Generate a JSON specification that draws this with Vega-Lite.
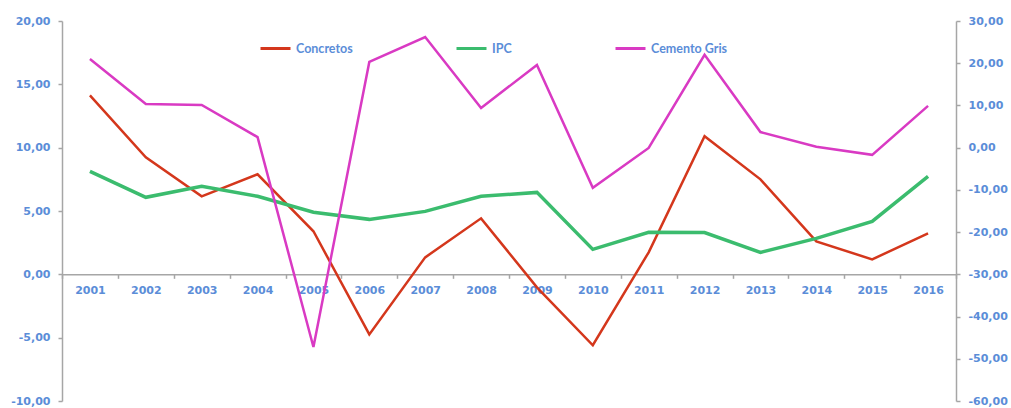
{
  "$schema": "https://vega.github.io/schema/vega-lite/v6.json",
  "width": 894,
  "height": 380,
  "autosize": {"type": "none"},
  "padding": {"left": 62, "top": 21, "right": 55, "bottom": 7},
  "background": "white",
  "config": {
    "locale": {"number": {"decimal": ",", "thousands": ".", "grouping": [3], "currency": ["", " €"], "minus": "-"}},
    "view": {"stroke": null},
    "axis": {
      "labelFont": "DejaVu Sans", "labelFontWeight": "bold", "labelFontSize": 11, "labelColor": "#5B8DD8",
      "domainColor": "#A6A6A6", "domainWidth": 1.5, "tickColor": "#A6A6A6", "tickWidth": 1.5, "tickSize": 4,
      "grid": false, "title": null
    }
  },
  "data": {"values": [
    {"year": "2001", "serie": "Concretos", "value": 14.13},
    {"year": "2002", "serie": "Concretos", "value": 9.24},
    {"year": "2003", "serie": "Concretos", "value": 6.16},
    {"year": "2004", "serie": "Concretos", "value": 7.9},
    {"year": "2005", "serie": "Concretos", "value": 3.4},
    {"year": "2006", "serie": "Concretos", "value": -4.74},
    {"year": "2007", "serie": "Concretos", "value": 1.34},
    {"year": "2008", "serie": "Concretos", "value": 4.42},
    {"year": "2009", "serie": "Concretos", "value": -1.03},
    {"year": "2010", "serie": "Concretos", "value": -5.6},
    {"year": "2011", "serie": "Concretos", "value": 1.74},
    {"year": "2012", "serie": "Concretos", "value": 10.9},
    {"year": "2013", "serie": "Concretos", "value": 7.5},
    {"year": "2014", "serie": "Concretos", "value": 2.6},
    {"year": "2015", "serie": "Concretos", "value": 1.18},
    {"year": "2016", "serie": "Concretos", "value": 3.24},
    {"year": "2001", "serie": "IPC", "value": 8.13},
    {"year": "2002", "serie": "IPC", "value": 6.08},
    {"year": "2003", "serie": "IPC", "value": 6.95},
    {"year": "2004", "serie": "IPC", "value": 6.16},
    {"year": "2005", "serie": "IPC", "value": 4.9},
    {"year": "2006", "serie": "IPC", "value": 4.34},
    {"year": "2007", "serie": "IPC", "value": 4.97},
    {"year": "2008", "serie": "IPC", "value": 6.16},
    {"year": "2009", "serie": "IPC", "value": 6.47},
    {"year": "2010", "serie": "IPC", "value": 1.97},
    {"year": "2011", "serie": "IPC", "value": 3.32},
    {"year": "2012", "serie": "IPC", "value": 3.3},
    {"year": "2013", "serie": "IPC", "value": 1.73},
    {"year": "2014", "serie": "IPC", "value": 2.84},
    {"year": "2015", "serie": "IPC", "value": 4.18},
    {"year": "2016", "serie": "IPC", "value": 7.74},
    {"year": "2001", "serie": "Cemento Gris", "value": 21.0},
    {"year": "2002", "serie": "Cemento Gris", "value": 10.35},
    {"year": "2003", "serie": "Cemento Gris", "value": 10.1},
    {"year": "2004", "serie": "Cemento Gris", "value": 2.5},
    {"year": "2005", "serie": "Cemento Gris", "value": -47.2},
    {"year": "2006", "serie": "Cemento Gris", "value": 20.3},
    {"year": "2007", "serie": "Cemento Gris", "value": 26.2},
    {"year": "2008", "serie": "Cemento Gris", "value": 9.4},
    {"year": "2009", "serie": "Cemento Gris", "value": 19.6},
    {"year": "2010", "serie": "Cemento Gris", "value": -9.5},
    {"year": "2011", "serie": "Cemento Gris", "value": -0.07},
    {"year": "2012", "serie": "Cemento Gris", "value": 22.0},
    {"year": "2013", "serie": "Cemento Gris", "value": 3.7},
    {"year": "2014", "serie": "Cemento Gris", "value": 0.2},
    {"year": "2015", "serie": "Cemento Gris", "value": -1.7},
    {"year": "2016", "serie": "Cemento Gris", "value": 9.9}
  ]},
  "encoding": {
    "x": {
      "field": "year", "type": "ordinal", "bandPosition": 0.5,
      "scale": {"type": "band", "paddingInner": 0, "paddingOuter": 0},
      "axis": {"labelAngle": 0, "offset": -126.67, "tickBand": "extent", "labelPadding": 6, "domainColor": "#A6A6A6"}
    },
    "color": {
      "field": "serie", "type": "nominal",
      "scale": {"domain": ["Concretos", "IPC", "Cemento Gris"], "range": ["#D4371C", "#3BBC6E", "#D93AC3"]},
      "legend": {
        "title": null, "orient": "none", "direction": "horizontal", "legendX": 197, "legendY": 11, "padding": 0,
        "symbolType": "stroke", "symbolSize": 900, "symbolStrokeWidth": 3, "columnPadding": 97,
        "labelFont": "Lato", "labelFontWeight": "bold", "labelFontSize": 12.5, "labelColor": "#5B8DD8", "labelOffset": 4
      }
    }
  },
  "layer": [
    {
      "transform": [{"filter": "datum.serie !== 'Cemento Gris'"}],
      "mark": {"type": "line"},
      "encoding": {
        "y": {
          "field": "value", "type": "quantitative",
          "scale": {"domain": [-10, 20], "nice": false, "zero": false},
          "axis": {"values": [-10, -5, 0, 5, 10, 15, 20], "format": ".2f", "orient": "left", "labelPadding": 8}
        },
        "strokeWidth": {
          "field": "serie", "type": "nominal",
          "scale": {"domain": ["Concretos", "IPC"], "range": [2.5, 3.5]},
          "legend": null
        }
      }
    },
    {
      "transform": [{"filter": "datum.serie === 'Cemento Gris'"}],
      "mark": {"type": "line", "strokeWidth": 2.5},
      "encoding": {
        "y": {
          "field": "value", "type": "quantitative",
          "scale": {"domain": [-60, 30], "nice": false, "zero": false},
          "axis": {"values": [-60, -50, -40, -30, -20, -10, 0, 10, 20, 30], "format": ".2f", "orient": "right", "labelPadding": 8}
        }
      }
    }
  ],
  "resolve": {"scale": {"y": "independent", "strokeWidth": "independent"}}
}
